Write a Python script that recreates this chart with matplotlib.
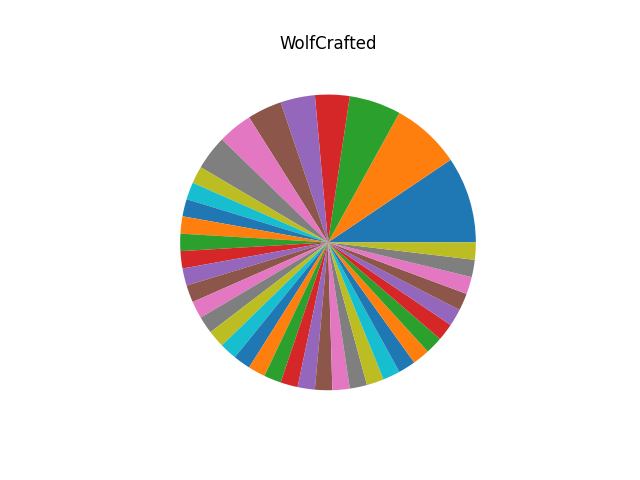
import matplotlib
matplotlib.use("Agg")
import matplotlib.pyplot as plt

title = "WolfCrafted"
# slice sizes, counterclockwise from 0 degrees
counts = [5, 4, 3, 2, 2, 2, 2, 2] + [1] * 31

fig, ax = plt.subplots(figsize=(6.4, 4.8), dpi=100)
ax.pie(counts)
ax.set_title(title)
fig.savefig("out.png")
